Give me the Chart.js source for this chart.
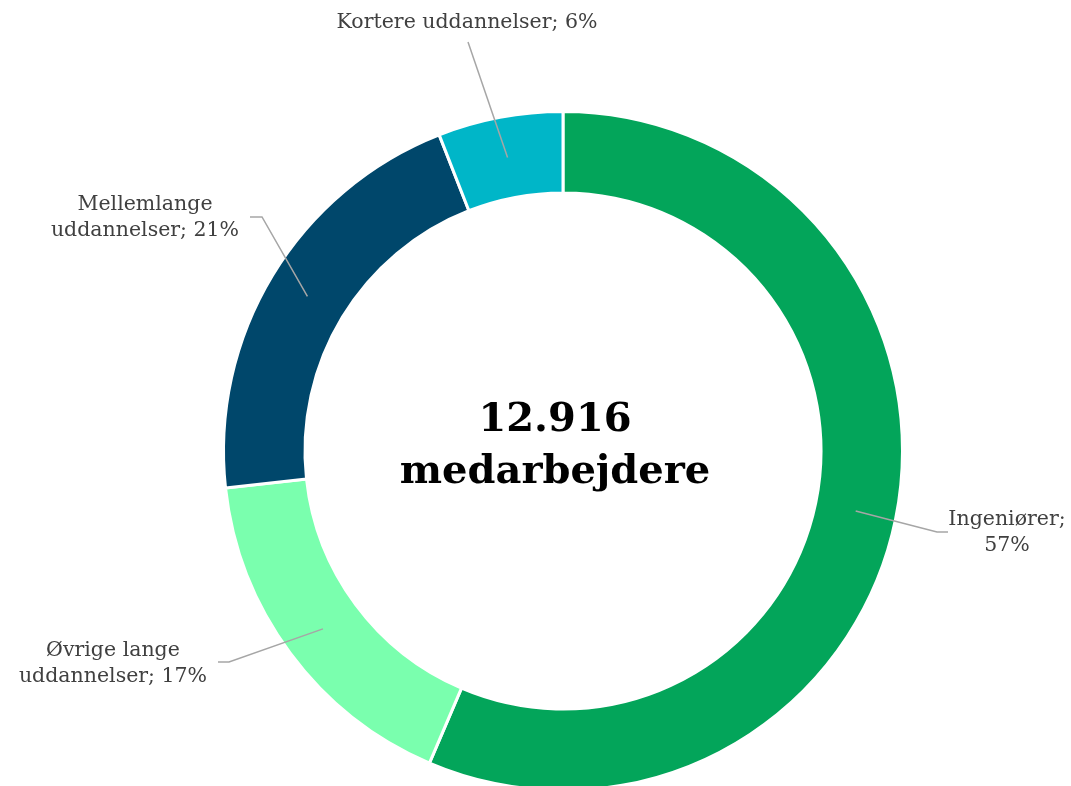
<!DOCTYPE html>
<html lang="da">
<head>
    <meta charset="UTF-8">
    <title>Medarbejdere</title>
    <script src="https://cdn.jsdelivr.net/npm/chart.js"></script>
    <style>
        body {
            margin: 0;
            background: #ffffff;
            overflow: hidden;
        }

        .wrap {
            position: absolute;
            left: 0;
            top: 0;
            width: 1071px;
            height: 792px;
        }
    </style>
</head>
<body>
    <div class="wrap"><canvas id="donut"></canvas></div>

    <script>
        // Data
        const categories = ['Ingeniører', 'Øvrige lange uddannelser', 'Mellemlange uddannelser', 'Kortere uddannelser'];
        const shares = [57, 17, 21, 6];
        const labelLines = [
            ['Ingeniører;', '57%'],
            ['Øvrige lange', 'uddannelser; 17%'],
            ['Mellemlange', 'uddannelser; 21%'],
            ['Kortere uddannelser; 6%']
        ];
        const centerLines = ['12.916', 'medarbejdere'];

        const colors = ['#03a55a', '#7affae', '#00476b', '#00b6c8'];

        // label placement relative to the chart centre: text centre, elbow, tail end
        const labelLayout = [
            { tx: 444, ty: 69, elbow: [374, 81], tail: [385, 81] },
            { tx: -450, ty: 200, elbow: [-334, 211], tail: [-345, 211] },
            { tx: -418, ty: -246, elbow: [-301, -234], tail: [-313, -234] },
            { tx: -96, ty: -428, elbow: [-95, -409], tail: [-95, -409] }
        ];

        const labelFont = '20.5px "DejaVu Serif", Georgia, serif';
        const centerFont = 'bold 40px "DejaVu Serif", Georgia, serif';

        const calloutPlugin = {
            id: 'callouts',
            afterDatasetsDraw(chart) {
                const c = chart.ctx;
                const meta = chart.getDatasetMeta(0);
                if (!meta.data.length) return;
                const first = meta.data[0];
                const cx = first.x, cy = first.y;

                c.save();
                meta.data.forEach((arc, i) => {
                    const mid = (arc.startAngle + arc.endAngle) / 2;
                    const r = (arc.innerRadius + arc.outerRadius) / 2;
                    const sx = cx + Math.cos(mid) * r;
                    const sy = cy + Math.sin(mid) * r;
                    const lay = labelLayout[i];

                    c.strokeStyle = '#a6a6a6';
                    c.lineWidth = 1.5;
                    c.beginPath();
                    c.moveTo(sx, sy);
                    c.lineTo(cx + lay.elbow[0], cy + lay.elbow[1]);
                    c.lineTo(cx + lay.tail[0], cy + lay.tail[1]);
                    c.stroke();

                    c.fillStyle = '#404040';
                    c.font = labelFont;
                    c.textAlign = 'center';
                    c.textBaseline = 'middle';
                    labelLines[i].forEach((line, k) => {
                        c.fillText(line, cx + lay.tx, cy + lay.ty + k * 26);
                    });
                });

                c.fillStyle = '#000000';
                c.font = centerFont;
                c.textAlign = 'center';
                c.textBaseline = 'middle';
                c.fillText(centerLines[0], cx - 8, cy - 30);
                c.fillText(centerLines[1], cx - 8, cy + 22);
                c.restore();
            }
        };

        const ctx = document.getElementById('donut').getContext('2d');

        new Chart(ctx, {
            type: 'doughnut',
            data: {
                labels: categories,
                datasets: [{
                    data: shares,
                    backgroundColor: colors,
                    borderColor: '#ffffff',
                    borderWidth: 3,
                    offset: 0,
                    hoverOffset: 0
                }]
            },
            options: {
                responsive: true,
                maintainAspectRatio: false,
                animation: false,
                cutout: '76%',
                layout: {
                    padding: { top: 110, bottom: 0, left: 55, right: 0 }
                },
                plugins: {
                    legend: { display: false },
                    tooltip: { enabled: false }
                }
            },
            plugins: [calloutPlugin]
        });
    </script>
</body>
</html>
